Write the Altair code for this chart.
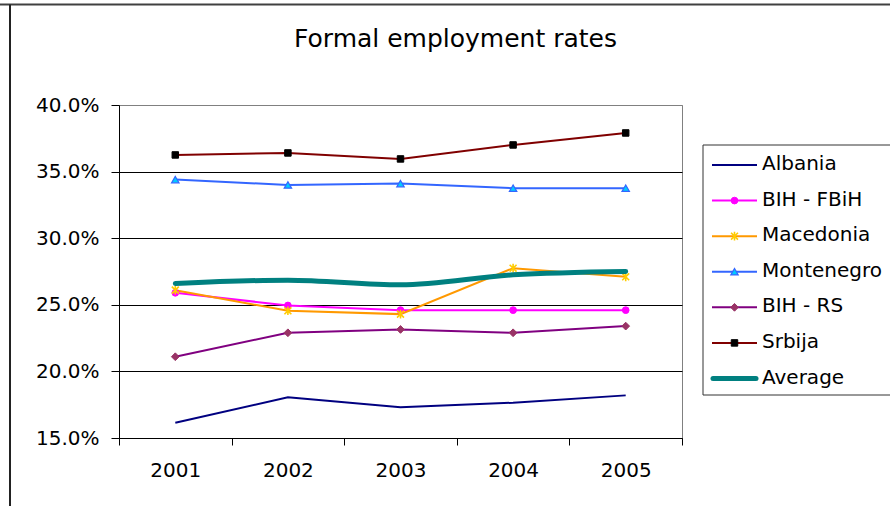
import altair as alt
import pandas as pd

# Formal employment rates (%) by year
years = ["2001", "2002", "2003", "2004", "2005"]
series_names = ["Albania", "BIH - FBiH", "Macedonia", "Montenegro", "BIH - RS", "Srbija", "Average"]

albania = [16.15, 18.05, 17.3, 17.65, 18.2]
bih_fbih = [25.9, 24.95, 24.6, 24.6, 24.6]
macedonia = [26.1, 24.55, 24.3, 27.75, 27.1]
montenegro = [34.4, 34.0, 34.1, 33.75, 33.75]
bih_rs = [21.1, 22.9, 23.15, 22.9, 23.4]
srbija = [36.25, 36.4, 35.95, 37.0, 37.9]
average = [26.6, 26.85, 26.5, 27.25, 27.5]

y_ticks = [15, 20, 25, 30, 35, 40]
chart_title = "Formal employment rates"

line_colors = ["#000080", "#FF00FF", "#FF9900", "#3366FF", "#800080", "#800000", "#008080"]

# marker styling for the series that carry markers
ASTERISK = "M-0.8,-0.8L0.8,0.8M-0.8,0.8L0.8,-0.8M0,-1L0,1"
marker_series = ["BIH - FBiH", "Macedonia", "Montenegro", "BIH - RS", "Srbija"]
marker_shapes = ["circle", ASTERISK, "triangle-up", "diamond", "square"]
marker_fills = ["#FF00FF", "#FFCC00", "#00CCFF", "#993366", "#000000"]
marker_strokes = ["#FF00FF", "#FFCC00", "#3366FF", "#993366", "#000000"]
marker_sizes = [45, 75, 55, 60, 42]
marker_widths = [1, 1.6, 1.2, 1, 1]

FONT = "DejaVu Sans"

values_by_series = [albania, bih_fbih, macedonia, montenegro, bih_rs, srbija, average]
rows = []
for name, vals in zip(series_names, values_by_series):
    for yr, v in zip(years, vals):
        rows.append({"series": name, "year": yr, "rate": v})
df = pd.DataFrame(rows)

legend_df = pd.DataFrame({"series": series_names, "rank": list(range(len(series_names)))})
one_row = alt.Data(values=[{"label": chart_title}])

x_scale = alt.Scale(type="band", domain=years, paddingInner=0, paddingOuter=0)
y_scale = alt.Scale(domain=[15, 40], nice=False, zero=False)
color_scale = alt.Scale(domain=series_names, range=line_colors)

shape_enc = alt.Shape("series:N", scale=alt.Scale(domain=marker_series, range=marker_shapes), legend=None)
fill_enc = alt.Fill("series:N", scale=alt.Scale(domain=marker_series, range=marker_fills), legend=None)
stroke_enc = alt.Stroke("series:N", scale=alt.Scale(domain=marker_series, range=marker_strokes), legend=None)
size_enc = alt.Size("series:N", scale=alt.Scale(type="ordinal", domain=marker_series, range=marker_sizes), legend=None)
sw_enc = alt.StrokeWidth("series:N", scale=alt.Scale(type="ordinal", domain=marker_series, range=marker_widths), legend=None)

x_axis = alt.Axis(
    title=None, labelAngle=0, tickBand="extent", tickSize=7, tickColor="black",
    domainColor="black", labelFont=FONT, labelFontSize=20, labelColor="black",
    labelPadding=15, grid=False,
)
y_axis = alt.Axis(
    title=None, values=y_ticks, labelExpr="format(datum.value, '.1f') + '%'",
    tickSize=8, tickColor="black", domainColor="black",
    labelFont=FONT, labelFontSize=20, labelColor="black", labelPadding=12,
    grid=True,
    gridColor={"condition": {"test": "datum.value >= 40", "value": "#808080"}, "value": "#000000"},
)

x_enc = alt.X("year:O", scale=x_scale, bandPosition=0.5, axis=x_axis)
y_enc = alt.Y("rate:Q", scale=y_scale, axis=y_axis)
y_enc_noaxis = alt.Y("rate:Q", scale=y_scale, axis=None)
color_enc = alt.Color("series:N", scale=color_scale, legend=None)

# outer frame of the chart
frame_top = alt.Chart(one_row).mark_rule(color="#404040", strokeWidth=2).encode(
    x=alt.value(-119), x2=alt.value(775), y=alt.value(-100.5)
)
frame_left = alt.Chart(one_row).mark_rule(color="#222222", strokeWidth=2).encode(
    x=alt.value(-109), y=alt.value(-100.5), y2=alt.value(410)
)

lines = alt.Chart(df).transform_filter(alt.datum.series != "Average").mark_line(
    strokeWidth=2
).encode(x=x_enc, y=y_enc, color=color_enc)

points = alt.Chart(df).transform_filter(
    alt.FieldOneOfPredicate(field="series", oneOf=marker_series)
).mark_point(filled=True, opacity=1).encode(
    x=x_enc, y=y_enc_noaxis, shape=shape_enc, fill=fill_enc,
    stroke=stroke_enc, size=size_enc, strokeWidth=sw_enc,
)

avg_line = alt.Chart(df).transform_filter(alt.datum.series == "Average").mark_line(
    strokeWidth=5, interpolate="monotone", strokeCap="round"
).encode(x=x_enc, y=y_enc_noaxis, color=color_enc)

# legend drawn as marks in a box at the right
legend_y = alt.Y("rank:Q", scale=alt.Scale(domain=[0, 6], range=[60, 273.5]), axis=None)

legend_box = alt.Chart(one_row).mark_rect(fill="white", stroke="#333333", strokeWidth=1).encode(
    x=alt.value(584), x2=alt.value(790), y=alt.value(40), y2=alt.value(290)
)
legend_lines = alt.Chart(legend_df).transform_filter(alt.datum.series != "Average").mark_rule(
    strokeWidth=2
).encode(x=alt.value(593), x2=alt.value(638), y=legend_y, color=color_enc)
legend_avg = alt.Chart(legend_df).transform_filter(alt.datum.series == "Average").mark_rule(
    strokeWidth=5, strokeCap="round"
).encode(x=alt.value(594), x2=alt.value(637), y=legend_y, color=color_enc)
legend_points = alt.Chart(legend_df).transform_filter(
    alt.FieldOneOfPredicate(field="series", oneOf=marker_series)
).mark_point(filled=True, opacity=1).encode(
    x=alt.value(615.5), y=legend_y, shape=shape_enc, fill=fill_enc,
    stroke=stroke_enc, size=size_enc, strokeWidth=sw_enc,
)
legend_text = alt.Chart(legend_df).mark_text(
    align="left", baseline="middle", font=FONT, fontSize=20, color="black", dy=-1
).encode(x=alt.value(643), y=legend_y, text="series:N")

title_text = alt.Chart(one_row).mark_text(
    align="center", baseline="alphabetic", font=FONT, fontSize=25, color="black"
).encode(x=alt.value(336.5), y=alt.value(-58.5), text="label:N")

chart = alt.layer(
    frame_top, frame_left, lines, points, avg_line,
    legend_box, legend_lines, legend_avg, legend_points, legend_text, title_text,
).resolve_scale(
    y="independent"
).properties(
    width=563, height=333,
    autosize=alt.AutoSizeParams(type="none"),
    padding={"left": 119, "top": 105, "right": 208, "bottom": 68},
    background="white",
).configure_view(
    stroke="#808080", strokeWidth=1
)

chart.save("out.html", embed_options={"renderer": "svg", "actions": False})
